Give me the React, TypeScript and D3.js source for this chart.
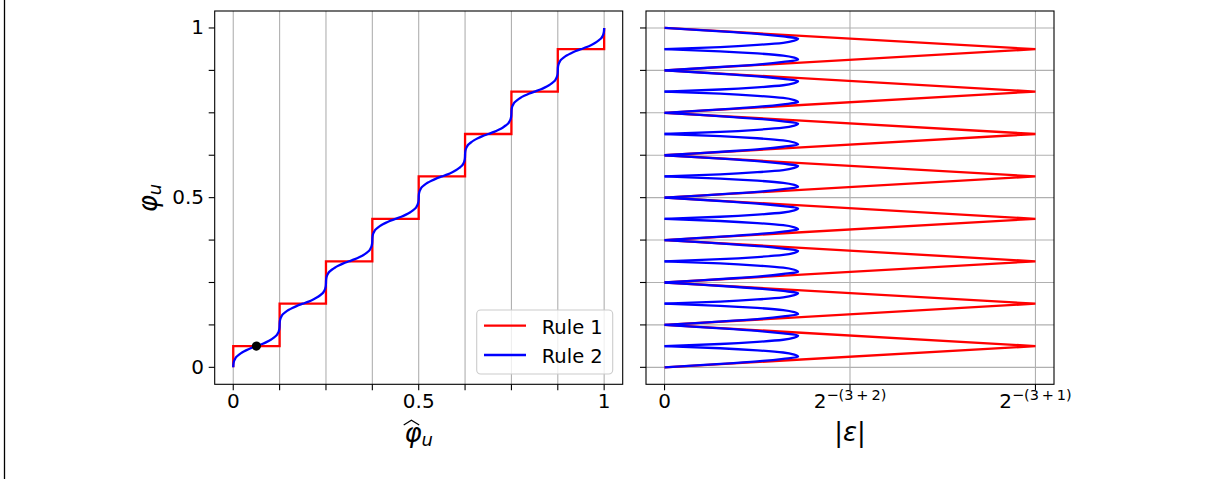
import React, { useEffect, useRef } from "react";
import * as d3 from "d3";

// Rule 1: staircase vertices (phi_hat, phi)
const rule1Hat = [0, 0, 0.125, 0.125, 0.25, 0.25, 0.375, 0.375, 0.5, 0.5, 0.625, 0.625, 0.75, 0.75, 0.875, 0.875, 1, 1];
const rule1Phi = [0, 0.0625, 0.0625, 0.1875, 0.1875, 0.3125, 0.3125, 0.4375, 0.4375, 0.5625, 0.5625, 0.6875, 0.6875, 0.8125, 0.8125, 0.9375, 0.9375, 1];

// Rule 1 error zigzag on the right panel (|eps|, phi)
const rule1Err = [0, 0.0625, 0, 0.0625, 0, 0.0625, 0, 0.0625, 0, 0.0625, 0, 0.0625, 0, 0.0625, 0, 0.0625, 0];
const rule1ErrPhi = [0, 0.0625, 0.125, 0.1875, 0.25, 0.3125, 0.375, 0.4375, 0.5, 0.5625, 0.625, 0.6875, 0.75, 0.8125, 0.875, 0.9375, 1];

// Rule 2: shape of one step (as fractions of one step)
const stepStarts = [0, 0.125, 0.25, 0.375, 0.5, 0.625, 0.75, 0.875];
const stepWidth = 0.125;
const stepPhi = [0, 0.05, 0.1, 0.15, 0.2, 0.25, 0.3, 0.35, 0.4, 0.45, 0.5, 0.55, 0.6, 0.65, 0.7, 0.75, 0.8, 0.85, 0.9, 0.95, 1];
const stepHat = [0, 0.002, 0.007, 0.018, 0.04, 0.07, 0.125, 0.19, 0.275, 0.375, 0.5, 0.625, 0.725, 0.81, 0.875, 0.93, 0.96, 0.982, 0.993, 0.998, 1];

// black marker
const markerHat = 0.0625;
const markerPhi = 0.0625;

// ticks
const gridTicks = [0, 0.125, 0.25, 0.375, 0.5, 0.625, 0.75, 0.875, 1];
const labelTicks = [0, 0.5, 1];
const errTicks = [0, 0.03125, 0.0625];
const errTickBase = ["0", "2", "2"];
const errTickSup = ["", "\u2212(3\u2009+\u20092)", "\u2212(3\u2009+\u20091)"];

const legendNames = ["Rule 1", "Rule 2"];
const legendColors = ["#ff0000", "#0000ff"];

const FONT = "DejaVu Sans, sans-serif";

export default function App() {
  const ref = useRef<SVGSVGElement>(null);

  useEffect(() => {
    const svg = d3.select(ref.current);
    svg.selectAll("*").remove();

    const top = 11,
      bottom = 384.3;
    const xL = d3.scaleLinear().domain([-0.05, 1.05]).range([214.7, 622.7]);
    const xR = d3.scaleLinear().domain([-0.05 * 0.0625, 1.05 * 0.0625]).range([646, 1054]);
    const y = d3.scaleLinear().domain([-0.05, 1.05]).range([bottom, top]);
    const lw = 2.3;

    // page frame line on the far left
    svg.append("line").attr("x1", 4.5).attr("x2", 4.5).attr("y1", 0).attr("y2", 479)
      .attr("stroke", "#000").attr("stroke-width", 1.3);

    const gridColor = "#b0b0b0";

    // left panel vertical grid
    svg.append("g").selectAll("line").data(gridTicks).join("line")
      .attr("x1", d => xL(d)).attr("x2", d => xL(d))
      .attr("y1", top).attr("y2", bottom)
      .attr("stroke", gridColor).attr("stroke-width", 1.1);

    // right panel grid
    svg.append("g").selectAll("line").data(errTicks).join("line")
      .attr("x1", d => xR(d)).attr("x2", d => xR(d))
      .attr("y1", top).attr("y2", bottom)
      .attr("stroke", gridColor).attr("stroke-width", 1.1);
    svg.append("g").selectAll("line").data(gridTicks).join("line")
      .attr("x1", xR.range()[0]).attr("x2", xR.range()[1])
      .attr("y1", d => y(d)).attr("y2", d => y(d))
      .attr("stroke", gridColor).attr("stroke-width", 1.1);

    // Rule 1 staircase
    const stairs = rule1Hat.map((h, i) => [h, rule1Phi[i]] as [number, number]);
    svg.append("path")
      .attr("d", d3.line<[number, number]>().x(d => xL(d[0])).y(d => y(d[1]))(stairs))
      .attr("fill", "none").attr("stroke", legendColors[0]).attr("stroke-width", lw);

    // Rule 2 smooth curve
    const rule2: [number, number][] = [];
    stepStarts.forEach((k, i) => {
      stepPhi.forEach((s, j) => {
        if (i > 0 && j === 0) return;
        rule2.push([k + stepHat[j] * stepWidth, k + s * stepWidth]);
      });
    });
    svg.append("path")
      .attr("d", d3.line<[number, number]>().x(d => xL(d[0])).y(d => y(d[1])).curve(d3.curveMonotoneY)(rule2))
      .attr("fill", "none").attr("stroke", legendColors[1]).attr("stroke-width", lw);

    // marker
    svg.append("circle").attr("cx", xL(markerHat)).attr("cy", y(markerPhi)).attr("r", 4.6).attr("fill", "#000");

    // Right panel: rule 1 error zigzag
    const zig = rule1Err.map((e, i) => [e, rule1ErrPhi[i]] as [number, number]);
    svg.append("path")
      .attr("d", d3.line<[number, number]>().x(d => xR(d[0])).y(d => y(d[1]))(zig))
      .attr("fill", "none").attr("stroke", legendColors[0]).attr("stroke-width", lw);

    // Right panel: rule 2 error, one piece between each pair of zeros
    const half = Math.floor(stepPhi.length / 2);
    const pieces: [number, number][][] = [];
    stepStarts.forEach(k => {
      [[0, half], [half, stepPhi.length - 1]].forEach(([a, b]) => {
        const seg: [number, number][] = [];
        for (let j = a; j <= b; j++) {
          seg.push([Math.abs(stepHat[j] - stepPhi[j]) * stepWidth, k + stepPhi[j] * stepWidth]);
        }
        pieces.push(seg);
      });
    });
    const errLine = d3.line<[number, number]>().x(d => xR(d[0])).y(d => y(d[1])).curve(d3.curveMonotoneY);
    svg.append("g").selectAll("path").data(pieces).join("path")
      .attr("d", d => errLine(d))
      .attr("fill", "none").attr("stroke", legendColors[1]).attr("stroke-width", lw);

    // axes
    const tickFs = 20;
    const styleAxis = (g: any) => {
      g.select(".domain").remove();
      g.selectAll(".tick line").attr("stroke", "#000").attr("stroke-width", 1.1);
      g.selectAll(".tick text").attr("font-family", FONT).attr("font-size", tickFs).attr("fill", "#000");
    };
    const fmt = (d: any) => (labelTicks.includes(d) ? String(d) : "");

    svg.append("g").attr("transform", `translate(0,${bottom})`)
      .call(d3.axisBottom(xL).tickValues(gridTicks).tickSize(6).tickPadding(3.6).tickFormat(fmt).offset(0))
      .call(styleAxis);
    svg.append("g").attr("transform", `translate(${xL.range()[0]},0)`)
      .call(d3.axisLeft(y).tickValues(gridTicks).tickSize(6).tickPadding(4.7).tickFormat(fmt).offset(0))
      .call(styleAxis);

    const xAxisR = svg.append("g").attr("transform", `translate(0,${bottom})`)
      .call(d3.axisBottom(xR).tickValues(errTicks).tickSize(6).tickPadding(3.6).tickFormat(() => "").offset(0))
      .call(styleAxis);
    xAxisR.selectAll(".tick text").each(function (_d, i) {
      const t = d3.select(this as SVGTextElement);
      t.append("tspan").text(errTickBase[i]);
      if (errTickSup[i]) {
        t.append("tspan").attr("font-size", 14.5).attr("dy", -8.5).text(errTickSup[i]);
      }
    });
    svg.append("g").attr("transform", `translate(${xR.range()[0]},0)`)
      .call(d3.axisLeft(y).tickValues(gridTicks).tickSize(6).tickFormat(() => "").offset(0))
      .call(styleAxis);

    // spines
    [xL, xR].forEach(sc => {
      svg.append("rect")
        .attr("x", sc.range()[0]).attr("y", top)
        .attr("width", sc.range()[1] - sc.range()[0]).attr("height", bottom - top)
        .attr("fill", "none").attr("stroke", "#000").attr("stroke-width", 1.1);
    });

    // legend
    const lg = svg.append("g");
    lg.append("rect").attr("x", 476.7).attr("y", 310).attr("width", 136).attr("height", 64).attr("rx", 4)
      .attr("fill", "#fff").attr("fill-opacity", 0.8).attr("stroke", "#cccccc").attr("stroke-width", 1.1);
    legendNames.forEach((name, i) => {
      const ly = 325.7 + i * 29.3;
      lg.append("line").attr("x1", 484).attr("x2", 526).attr("y1", ly).attr("y2", ly)
        .attr("stroke", legendColors[i]).attr("stroke-width", lw);
      lg.append("text").attr("x", 541.7).attr("y", ly + 7.8)
        .attr("font-family", FONT).attr("font-size", 19.5).attr("fill", "#000").text(name);
    });

    // axis labels
    const labFs = 26;
    // x label left: widehat phi_u
    const cx = (xL.range()[0] + xL.range()[1]) / 2;
    const xl = svg.append("text").attr("x", cx).attr("y", 442).attr("text-anchor", "middle")
      .attr("font-family", FONT).attr("font-size", labFs).attr("fill", "#000");
    xl.append("tspan").attr("font-style", "italic").text("\u03c6");
    xl.append("tspan").attr("font-style", "italic").attr("font-size", 18).attr("dy", 3.5).text("u");
    svg.append("path")
      .attr("d", `M${cx - 15},425 L${cx - 7.3},420.3 L${cx + 0.5},425`)
      .attr("fill", "none").attr("stroke", "#000").attr("stroke-width", 1.2);

    // y label: phi_u
    const yl = svg.append("text").attr("transform", "translate(157,198) rotate(-90)").attr("text-anchor", "middle")
      .attr("font-family", FONT).attr("font-size", labFs).attr("fill", "#000");
    yl.append("tspan").attr("font-style", "italic").text("\u03c6");
    yl.append("tspan").attr("font-style", "italic").attr("font-size", 18).attr("dy", 3.5).text("u");

    // x label right: |eps|
    const rx = (xR.range()[0] + xR.range()[1]) / 2;
    const el = svg.append("text").attr("x", rx).attr("y", 441).attr("text-anchor", "middle")
      .attr("font-family", FONT).attr("font-size", labFs).attr("fill", "#000");
    el.append("tspan").text("|");
    el.append("tspan").attr("font-style", "italic").text("\u03b5");
    el.append("tspan").text("|");
  }, []);

  return (
    <svg
      ref={ref}
      width={1212}
      height={479}
      style={{ position: "absolute", left: 0, top: 0, background: "#fff" }}
    />
  );
}
